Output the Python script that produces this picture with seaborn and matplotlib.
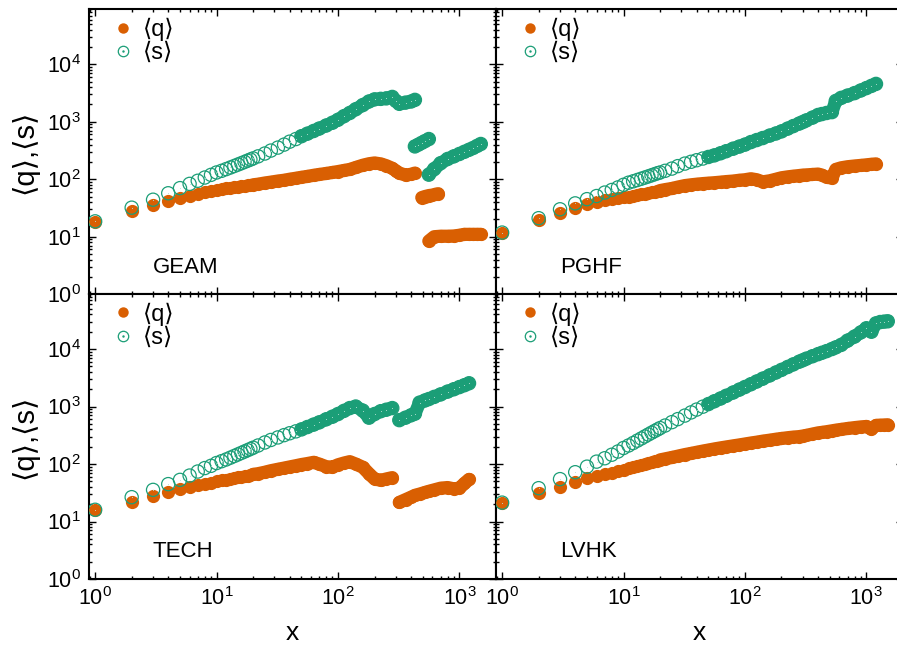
import matplotlib
matplotlib.use("Agg")
import matplotlib.pyplot as plt
from matplotlib.lines import Line2D
from matplotlib.ticker import LogLocator, NullFormatter
import numpy as np
import pandas as pd
import seaborn as sns

nan = np.nan

# shared x grid (rank) for all four networks
X = [1, 2, 3, 4, 5, 6, 7, 8, 9, 10,
     11, 12, 13, 14, 15, 16, 17, 18, 19, 20,
     22, 25, 28, 32, 36, 40, 45, 50, 56, 63,
     70, 80, 90, 100, 112, 125, 140, 160, 180, 200,
     225, 250, 280, 300, 320, 360, 400, 430, 470, 520,
     560, 620, 700, 800, 900, 1000, 1100, 1200, 1300, 1400,
     1500]

GEAM_Q = [18.3, 27.5, 35.5, 41, 47, 52, 56, 59, 62, 65,
          67, 69, 71, 72, 74, 75, 77, 78, 79, 80,
          82, 86, 89, 93, 96, 100, 104, 108, 112, 117,
          121, 126, 131, 136, 142, 148, 160, 175, 186, 192,
          185, 172, 155, 140, 128, 118, 122, 128, nan, nan,
          8.4, 10.0, 10.2, 10.2, 10.3, 10.6, 11.0, 11.0, 11.0, 11.0,
          11.0]
GEAM_S = [18.5, 32, 44, 57, 70, 83, 94, 107, 119, 131,
          140, 150, 160, 170, 180, 190, 200, 210, 220, 230,
          250, 280, 315, 355, 400, 450, 500, 560, 620, 690,
          760, 860, 960, 1080, 1250, 1420, 1650, 1950, 2250, 2450,
          2500, 2550, 2700, 2300, 2050, 2150, 2250, 2400, nan, nan,
          120, 150, 190, 225, 250, 275, 300, 325, 350, 380,
          410]
# GEAM has a short extra branch around x ~ 500
GEAM_XB = [430, 460, 490, 520, 560, 600, 640, 670]
GEAM_QB = [nan, nan, 48, 50, 52, 53, 55, 56]
GEAM_SB = [372, 400, 430, 460, 500, nan, nan, nan]

PGHF_Q = [11.8, 19.6, 26.2, 32, 36.8, 40, 43, 45, 47, 48.5,
          50, 51.5, 53, 54.5, 56, 58, 59.5, 61, 62, 63.5,
          66, 69, 73, 77.5, 80, 82, 84, 85.5, 87, 89,
          91, 93, 96, 98, 102, 98, 90, 94, 100, 106,
          110, 113, 116, 118, 119, 121, 123, 118, 108, 105,
          148, 158, 165, 170, 174, 178, 182, 185, nan, nan,
          nan]
PGHF_S = [11.8, 21, 30, 38, 45, 51, 58.6, 65, 72, 80,
          87, 92, 97, 102, 107, 112, 117, 122, 127, 131,
          140, 153, 169, 187, 201, 214, 229, 244, 260, 283,
          307, 340, 370, 400, 443, 480, 520, 575, 625, 680,
          760, 840, 930, 990, 1055, 1180, 1310, 1360, 1420, 1470,
          2300, 2600, 2850, 3150, 3500, 3850, 4200, 4550, nan, nan,
          nan]

TECH_Q = [15.9, 22.2, 27.9, 32.4, 36.5, 40.6, 42.5, 45, 47.5, 50,
          52, 53.5, 55, 57, 58.5, 60, 61.5, 63, 64.5, 66,
          68, 72, 76.5, 81, 85, 89, 93.5, 98, 102, 107,
          100, 90, 88, 97, 104, 110, 100, 88, 68, 55,
          52, 55, 58, nan, 21.5, 24, 26.5, 28.5, 30, 32,
          33.5, 35.5, 38, 39, 37, 38, 46, 54, nan, nan,
          nan]
TECH_S = [16, 26.5, 35.5, 44.7, 53, 63, 74, 85, 93, 104,
          112, 120, 129, 138, 147, 156, 165, 174, 183, 192,
          210, 237, 262, 290, 318, 343, 370, 400, 440, 485,
          530, 600, 665, 740, 840, 940, 1000, 850, 640, 740,
          830, 880, 940, nan, 580, 640, 705, 750, 1170, 1275,
          1350, 1470, 1625, 1820, 2000, 2180, 2350, 2540, nan, nan,
          nan]

LVHK_Q = [21.3, 31.9, 40.5, 48.4, 56.8, 62, 67, 71, 75, 79,
          84, 88, 92, 96, 101, 105, 109, 112, 115, 118,
          123, 130, 137, 146, 153, 160, 168, 175, 183, 191,
          198, 207, 215, 223, 232, 240, 250, 260, 270, 278,
          287, 294, 300, 307, 315, 332, 348, 355, 365, 378,
          388, 400, 415, 430, 442, 450, 405, 470, 475, 478,
          482]
LVHK_S = [21.3, 38, 54.6, 72, 90, 110, 126, 145, 165, 190,
          210, 232, 255, 278, 302, 326, 350, 374, 398, 422,
          467, 535, 604, 696, 790, 885, 994, 1103, 1235, 1380,
          1535, 1753, 1970, 2185, 2445, 2725, 3050, 3480, 3910, 4340,
          4880, 5410, 6030, 6400, 6800, 7500, 8150, 8600, 9200, 10000,
          10700, 11800, 14000, 16500, 19500, 23000, 20000, 28000, 29500, 30000,
          30400]

ORANGE = "#d95f02"
TEAL = "#1b9e77"
MS = 9.5  # marker diameter in points

sns.set_style("ticks", rc={"axes.edgecolor": "black", "text.color": "black",
                           "xtick.color": "black", "ytick.color": "black",
                           "axes.labelcolor": "black"})
plt.rcParams["font.family"] = ["Liberation Sans", "DejaVu Sans"]


def frame(x, q, s):
    return pd.DataFrame({"x": x, "q": q, "s": s})


panels = [
    ("GEAM", [frame(X, GEAM_Q, GEAM_S), frame(GEAM_XB, GEAM_QB, GEAM_SB)]),
    ("PGHF", [frame(X, PGHF_Q, PGHF_S)]),
    ("TECH", [frame(X, TECH_Q, TECH_S)]),
    ("LVHK", [frame(X, LVHK_Q, LVHK_S)]),
]

fig = plt.figure(figsize=(8.97, 6.48), dpi=100)
W, H = 0.4537, 0.4395
boxes = [(0.0992, 0.546), (0.5529, 0.546), (0.0992, 0.1065), (0.5529, 0.1065)]

for i, ((name, parts), (x0, y0)) in enumerate(zip(panels, boxes)):
    ax = fig.add_axes([x0, y0, W, H])
    ax.set_xscale("log")
    ax.set_yscale("log")

    # <q>: dense band drawn as a thick line under the filled markers
    for df in parts:
        band = df[df.x >= 20]
        ax.plot(band.x, band.q, color=ORANGE, lw=MS, solid_capstyle="round",
                solid_joinstyle="round", zorder=2)
    for df in parts:
        sns.scatterplot(data=df, x="x", y="q", ax=ax, color=ORANGE,
                        s=MS ** 2, linewidth=0, zorder=3)
    # <s>: open circles (with centre dot), band where points are dense
    for df in parts:
        band = df[df.x >= 50]
        ax.plot(band.x, band.s, color=TEAL, lw=MS, solid_capstyle="round",
                solid_joinstyle="round", zorder=4)
    for df in parts:
        sns.scatterplot(data=df, x="x", y="s", ax=ax, s=MS ** 2,
                        facecolor="none", edgecolor=TEAL, linewidth=0.9, zorder=5)
        sns.scatterplot(data=df, x="x", y="s", ax=ax, s=1.5, marker=".",
                        color=TEAL, linewidth=0, zorder=6)

    ax.set_xlim(0.89, 2000)
    ax.set_ylim(1, 9e4)
    for axis in (ax.xaxis, ax.yaxis):
        axis.set_major_locator(LogLocator(base=10, numticks=100))
        axis.set_minor_locator(LogLocator(base=10, subs=np.arange(2, 10), numticks=100))
        axis.set_minor_formatter(NullFormatter())
    ax.tick_params(which="both", direction="in", top=True, right=True,
                   labelsize=15.5, width=1)
    ax.tick_params(which="major", length=5, pad=6)
    ax.tick_params(which="minor", length=2.5)
    for sp in ax.spines.values():
        sp.set_linewidth(1.5)

    left = i % 2 == 0
    bottom = i >= 2
    ax.tick_params(labelleft=left, labelbottom=bottom)
    if left:
        ax.set_ylabel("⟨q⟩,⟨s⟩", fontsize=21)
        ax.yaxis.set_label_coords(-0.125, 0.5)
    else:
        ax.set_ylabel("")
    if bottom:
        ax.set_xlabel("x", fontsize=19)
        ax.xaxis.set_label_coords(0.5, -0.148)
    else:
        ax.set_xlabel("")

    ax.text(0.157, 0.095, name, transform=ax.transAxes, fontsize=16,
            ha="left", va="center")

    h_q = Line2D([], [], ls="", marker="o", ms=7.5, color=ORANGE, mew=0)
    h_ring = Line2D([], [], ls="", marker="o", ms=7.5, mfc="none", mec=TEAL, mew=0.9)
    h_dot = Line2D([], [], ls="", marker=".", ms=1.5, color=TEAL)
    ax.legend([h_q, (h_ring, h_dot)], ["⟨q⟩", "⟨s⟩"], loc="upper left",
              bbox_to_anchor=(0.035, 1.0), frameon=False, fontsize=17,
              borderaxespad=0, borderpad=0.35, handlelength=1.0,
              handletextpad=0.35, labelspacing=0.05)

fig.savefig("out.png", dpi=100)
